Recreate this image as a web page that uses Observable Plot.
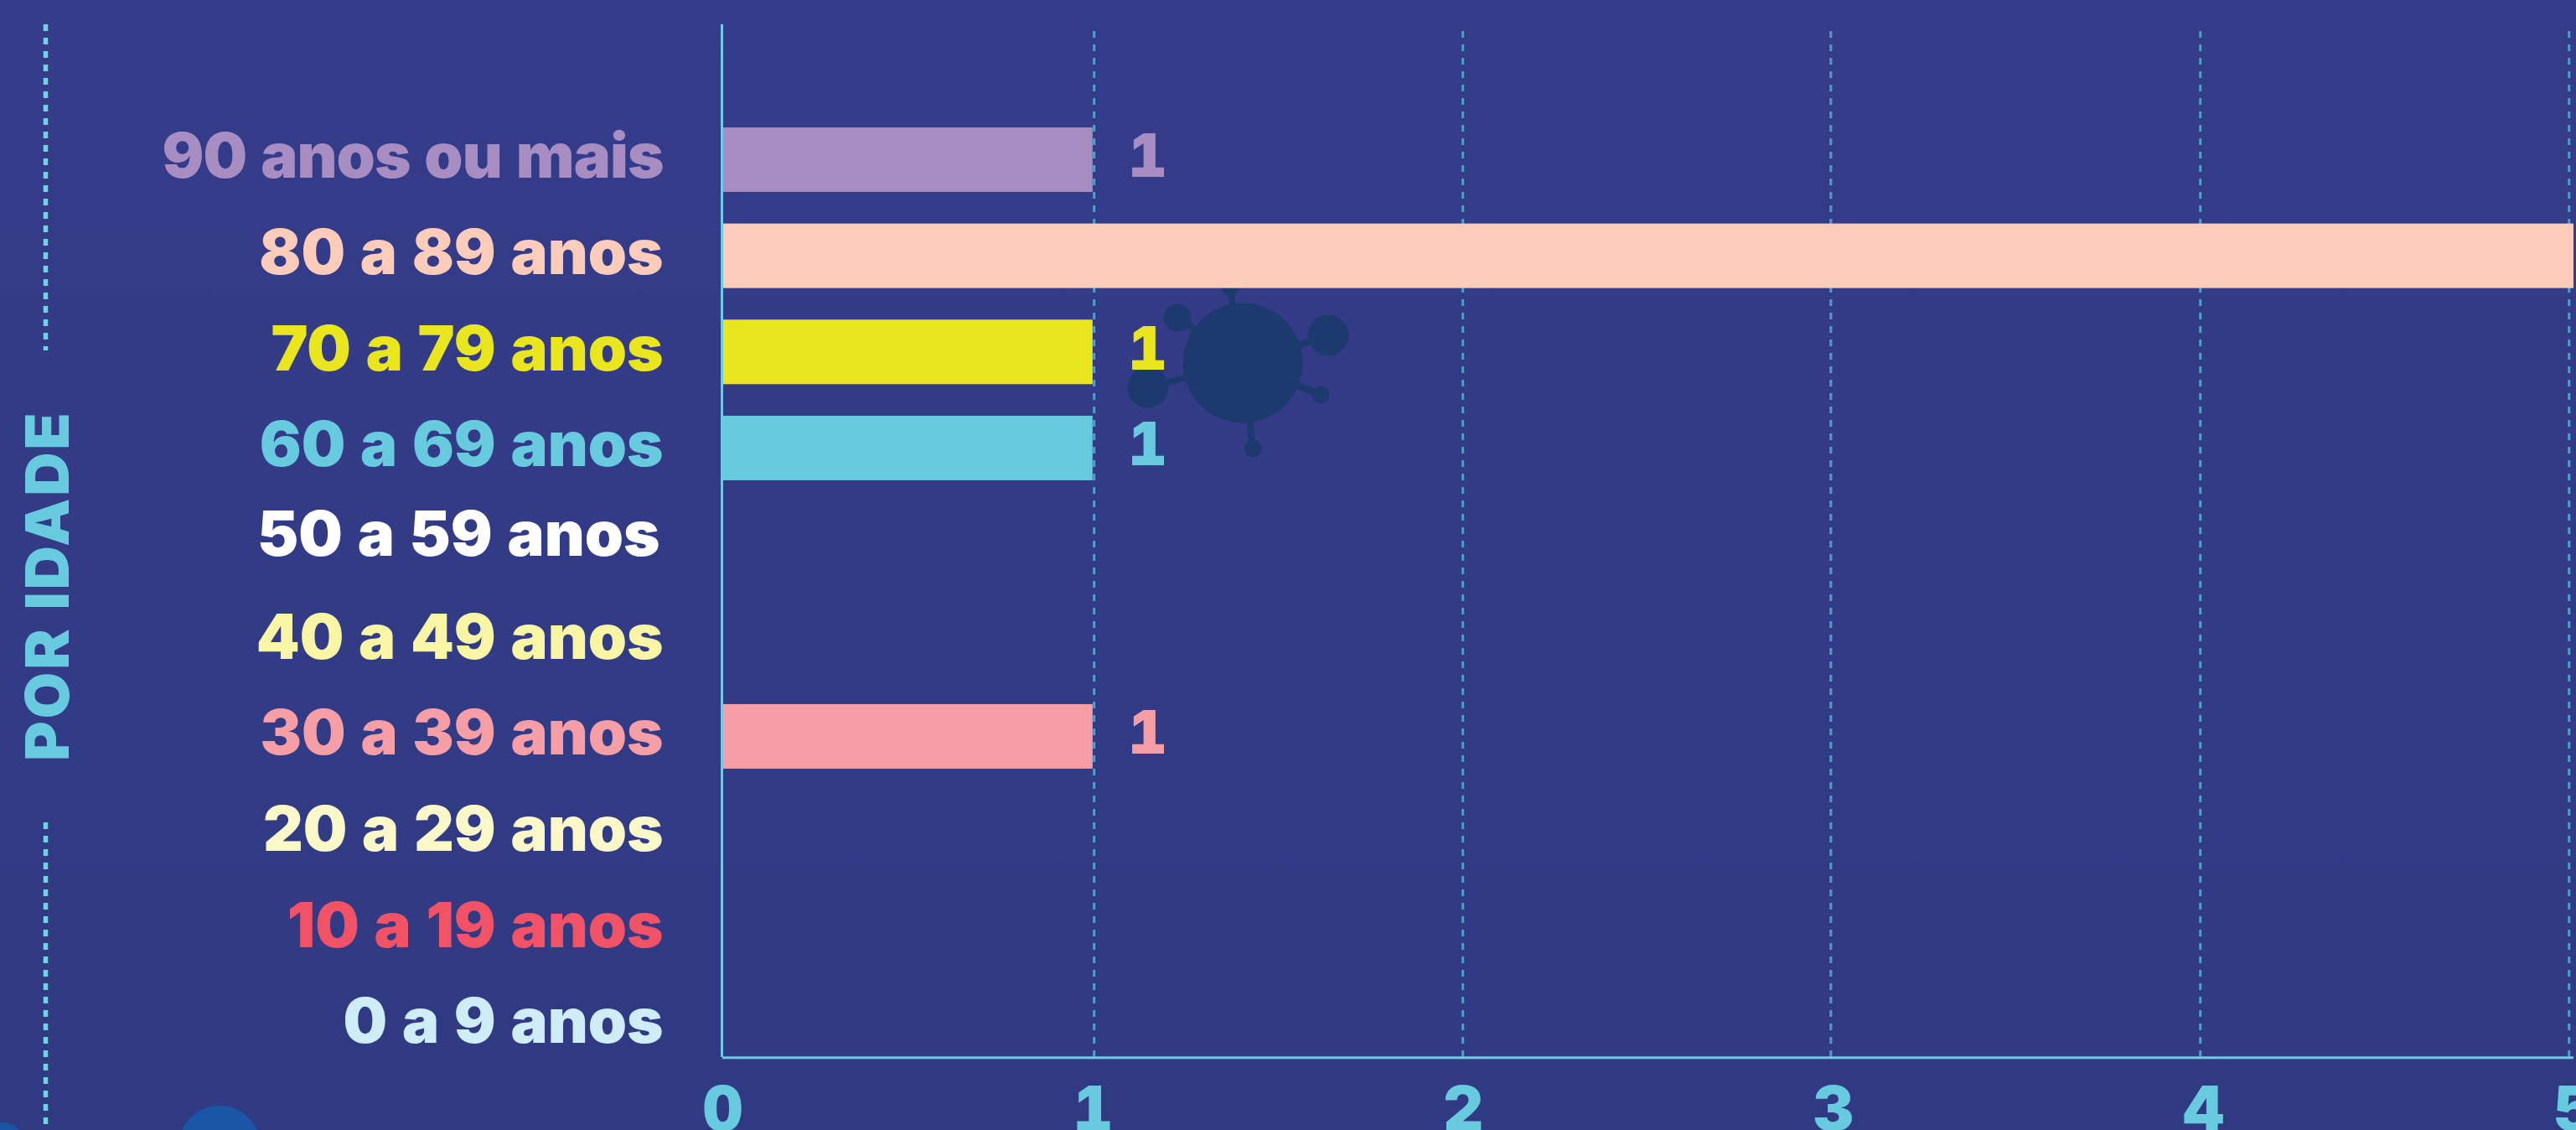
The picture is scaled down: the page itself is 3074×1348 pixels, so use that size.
<!DOCTYPE html>
<html><head><meta charset="utf-8">
<script src="https://cdn.jsdelivr.net/npm/d3@7"></script>
<script src="https://cdn.jsdelivr.net/npm/@observablehq/plot@0.6"></script>
<style>
html,body{margin:0;padding:0;width:3074px;height:1348px;overflow:hidden;background:linear-gradient(#353c8a,#303a82);}
#chart{position:absolute;left:0;top:0}
#chart svg{background:transparent;display:block}
#chart text{word-spacing:3px}
#deco{position:absolute;left:0;top:0}
</style></head><body>
<svg id="deco" width="3074" height="1348" viewBox="0 0 3074 1348">
  <g fill="#1d3a6e" stroke="#1d3a6e" stroke-width="8">
    <line x1="1483" y1="433" x2="1468" y2="345"/>
    <line x1="1483" y1="433" x2="1405" y2="379"/>
    <line x1="1483" y1="433" x2="1585" y2="400"/>
    <line x1="1483" y1="433" x2="1576" y2="471"/>
    <line x1="1483" y1="433" x2="1495" y2="535"/>
    <line x1="1483" y1="433" x2="1370" y2="462"/>
    <g stroke="none">
      <circle cx="1483" cy="433" r="71.5"/>
      <circle cx="1468" cy="343" r="10"/>
      <circle cx="1405" cy="379" r="16.5"/>
      <circle cx="1585" cy="400" r="24.5"/>
      <circle cx="1576" cy="471" r="10.5"/>
      <circle cx="1495" cy="535" r="10.5"/>
      <circle cx="1370" cy="462" r="24.5"/>
    </g>
  </g>
  <circle cx="262" cy="1368.4" r="49.4" fill="#1a56a5"/>
  <circle cx="3" cy="1366" r="27" fill="#1a56a5"/>
  <g stroke="#74d0e2" stroke-width="5.5" stroke-dasharray="8 8">
    <line x1="54.5" y1="29" x2="54.5" y2="418"/>
    <line x1="54.5" y1="981" x2="54.5" y2="1342"/>
  </g>
</svg>
<div id="chart"></div>
<script>
const categories = ["90 anos ou mais","80 a 89 anos","70 a 79 anos","60 a 69 anos","50 a 59 anos","40 a 49 anos","30 a 39 anos","20 a 29 anos","10 a 19 anos","0 a 9 anos"];
const counts = [1,5,1,1,0,0,1,0,0,0];
const colours = ["#a78dc2","#fbccba","#eae61e","#67cadf","#ffffff","#f8f5a5","#f69ea6","#faf8c8","#f25266","#cfedf7"];
const tickValues = [0,1,2,3,4,5];
const gridValues = [1.003,1.999,2.993,3.991,4.987];
const yTitle = "POR IDADE";

const rows = categories.map((c,i)=>({c,v:counts[i],col:colours[i]}));
const FONT = "Inter";
const label = {fontFamily:FONT,fontWeight:900,fontSize:74,lineAnchor:"bottom",textAnchor:"end"};

const plot = Plot.plot({
  width:3074,height:1348,
  marginLeft:0,marginRight:0,marginTop:0,marginBottom:0,
  style:{background:"transparent",overflow:"visible"},
  x:{domain:[0,5],range:[862,3071],axis:null},
  y:{type:"band",domain:categories,range:[114.3,1298.6],padding:0.3285,round:false,axis:null},
  marks:[
    Plot.ruleX(gridValues,{x:d=>d,insetTop:37,insetBottom:87,stroke:"#4f9fc4",strokeWidth:3,strokeDasharray:"8 8"}),
    Plot.barX(rows.filter(d=>d.v>0),{x1:0,x2:"v",y:"c",fill:"col"}),
    Plot.ruleX([0],{insetTop:29,insetBottom:87,stroke:"#6fcbe3",strokeWidth:3,dx:-1}),
    Plot.ruleY([0],{frameAnchor:"bottom",x1:0,x2:5,y:()=>"0 a 9 anos",dy:38.8,stroke:"#6fcbe3",strokeWidth:3}),
    Plot.text(rows.filter(d=>d.c!=="50 a 59 anos"),{...label,x:0,y:"c",text:"c",fill:"col",dx:-71,dy:21.5}),
    Plot.text(rows.filter(d=>d.c==="50 a 59 anos"),{...label,x:0,y:"c",text:"c",fill:"col",dx:-75,dy:13}),
    Plot.text(rows.filter(d=>d.v===1),{x:"v",y:"c",text:"v",fill:"col",fontFamily:FONT,fontWeight:900,fontSize:72,lineAnchor:"bottom",textAnchor:"start",dx:42,dy:20.5}),
    Plot.text(tickValues,{x:d=>d,text:d=>d,fill:"#67cadf",frameAnchor:"bottom",fontFamily:FONT,fontWeight:900,fontSize:74,lineAnchor:"bottom",textAnchor:"middle"}),
    Plot.text([yTitle],{text:d=>d,frameAnchor:"left",rotate:-90,dx:81,dy:24,fill:"#67cadf",fontFamily:FONT,fontWeight:900,fontSize:72,lineAnchor:"bottom",textAnchor:"middle"})
  ]
});
const sel = d3.select(plot).selectAll("text");
sel.filter(function(){return this.textContent.startsWith("90 anos");}).style("letter-spacing","-0.9px");
sel.filter(function(){return this.textContent===yTitle;}).style("letter-spacing","3px");
document.getElementById("chart").appendChild(plot);
</script>
</body></html>
